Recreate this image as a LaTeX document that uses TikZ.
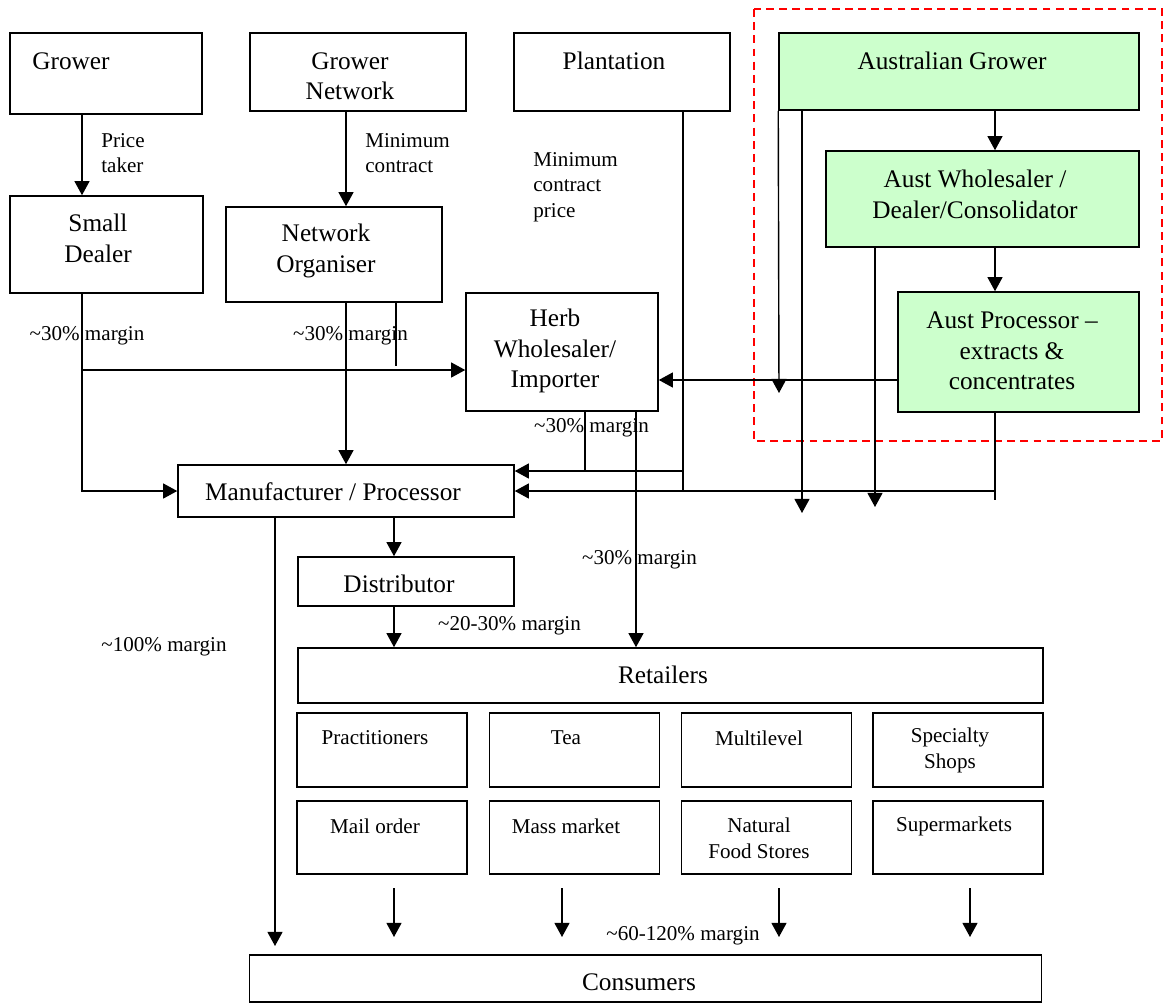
\documentclass[tikz,border=0pt]{standalone}
\usepackage{fontspec}
\setmainfont{Liberation Serif}
\usetikzlibrary{arrows.meta}
\definecolor{aglight}{HTML}{CCFFCC}

\begin{document}
\begin{tikzpicture}[x=0.02cm,y=-0.02cm,>={Triangle[length=8pt,width=8.5pt]},line cap=butt,
  box/.style={draw,line width=0.9pt,inner sep=0pt},
  agbox/.style={box,fill=aglight},
  big/.style={font=\fontsize{14.4}{17.3}\selectfont,align=center,inner sep=0pt},
  small/.style={font=\fontsize{12}{14.5}\selectfont,align=left,inner sep=0pt},
  arr/.style={->,line width=0.8pt}]
\useasboundingbox (0,0) rectangle (1164,1005);
% Australian part
\draw[red,line width=0.8pt,dash pattern=on 4.5pt off 3pt] (754,9) rectangle (1162,441);
% boxes
\node[box,minimum width=3.84cm,minimum height=1.62cm] (grower) at (106,73.5) {};
\node[box,minimum width=4.32cm,minimum height=1.56cm] (grnet) at (358,72) {};
\node[box,minimum width=4.32cm,minimum height=1.56cm] (plant) at (622,72) {};
\node[agbox,minimum width=7.2cm,minimum height=1.54cm] (ausgrow) at (959,71.5) {};
\node[agbox,minimum width=6.26cm,minimum height=1.92cm] (auswhol) at (982.5,199) {};
\node[agbox,minimum width=4.82cm,minimum height=2.4cm] (ausproc) at (1018.5,352) {};
\node[box,minimum width=3.86cm,minimum height=1.94cm] (dealer) at (106.5,244.5) {};
\node[box,minimum width=4.32cm,minimum height=1.9cm] (netorg) at (334,254.5) {};
\node[box,minimum width=3.84cm,minimum height=2.36cm] (herb) at (562,352) {};
\node[box,minimum width=6.72cm,minimum height=1.04cm] (manuf) at (346,491) {};
\node[box,minimum width=4.32cm,minimum height=0.98cm] (distr) at (406,581.5) {};
\node[box,minimum width=14.9cm,minimum height=1.1cm] (retail) at (670.5,675.5) {};
\node[box,minimum width=15.84cm,minimum height=0.94cm] (consum) at (645.5,978.5) {};
\foreach \x [count=\i] in {382,574.5,766.5,958} {
  \node[box,minimum width=3.4cm,minimum height=1.48cm] (shopA\i) at (\x,750) {};
  \node[box,minimum width=3.4cm,minimum height=1.46cm] (shopB\i) at (\x,837.5) {};
}
% box texts
\node[big] (growerT) at (71,61) {Grower};
\node[big] (grnetT) at (350,76) {Grower\\Network};
\node[big] (plantT) at (614,61) {Plantation};
\node[big] (ausgrowT) at (952,61) {Australian Grower};
\node[big] (auswholT) at (975,194.5) {Aust Wholesaler /\\Dealer/Consolidator};
\node[big] (ausprocT) at (1012,351) {Aust Processor --\\extracts \&\\concentrates};
\node[big] (dealerT) at (98,238.5) {Small\\Dealer};
\node[big] (netorgT) at (326,251) {Network\\Organiser};
\node[big] (herbT) at (555,351) {Herb\\Wholesaler/\\Importer};
\node[big] (manufT) at (333,492) {Manufacturer / Processor};
\node[big] (distrT) at (399,584) {Distributor};
\node[big] (retailT) at (663,675) {Retailers};
\node[big] (consumT) at (639,982) {Consumers};
\node[small] (shopA1T) at (375,738) {Practitioners};
\node[small] (shopA2T) at (566,738) {Tea};
\node[small] (shopA3T) at (759,738) {Multilevel};
\node[small,align=center] (shopA4T) at (950,750.5) {Specialty\\Shops};
\node[small] (shopB1T) at (375,826) {Mail order};
\node[small] (shopB2T) at (566,826) {Mass market};
\node[small,align=center] (shopB3T) at (759,838.5) {Natural\\Food Stores};
\node[small] (shopB4T) at (954,826) {Supermarkets};
% labels
\node[small,anchor=west] (priceL) at (101,153) {Price\\taker};
\node[small,anchor=west] (contrL) at (365,153) {Minimum\\contract};
\node[small,anchor=west] (plantL) at (533,187) {Minimum\\contract\\price};
\node[small] (mDealer) at (87,336) {\textasciitilde30\% margin};
\node[small] (mNet) at (350.5,336) {\textasciitilde30\% margin};
\node[small] (mHerb) at (591.5,428) {\textasciitilde30\% margin};
\node[small] (mRetail) at (639.5,560) {\textasciitilde30\% margin};
\node[small] (mDistr) at (509.5,626) {\textasciitilde20-30\% margin};
\node[small] (mManuf) at (164,647) {\textasciitilde100\% margin};
\node[small] (mShops) at (683,936) {\textasciitilde60-120\% margin};
% free ends
\coordinate (jDeal) at (82,370);
\coordinate (tickE) at (396,366);
\coordinate (herbE) at (585,471);
\coordinate (plantE) at (683,491);
\coordinate (procE) at (995,500);
\coordinate (agA) at (779,393);
\coordinate (agB) at (802,513);
\coordinate (awE) at (875,507);
\coordinate (mfE) at (275,946);
% connectors
\draw[arr] (grower.south -| 82,0) -- (dealer.north -| 82,0);
\draw[arr] (grnet.south -| 346,0) -- (netorg.north -| 346,0);
\draw[arr] (dealer.south -| 82,0) |- (manuf.west);
\draw[arr] (jDeal) -- (herb.west |- jDeal);
\draw[arr] (netorg.south -| 346,0) -- (manuf.north -| 346,0);
\draw[line width=0.8pt] (netorg.south -| tickE) -- (tickE);
\draw[line width=0.8pt] (herb.south -| herbE) -- (herbE);
\draw[line width=0.8pt] (plant.south -| plantE) -- (plantE);
\draw[arr] (plantE |- herbE) -- (manuf.east |- herbE);
\draw[line width=0.8pt] (ausproc.south -| procE) -- (procE);
\draw[arr] (procE |- manuf.east) -- (manuf.east);
\draw[arr] (herb.south -| 636,0) -- (retail.north -| 636,0);
\draw[arr] (ausproc.west |- 0,380) -- (herb.east |- 0,380);
\draw[arr] (ausgrow.south west) -- (agA);
\draw[arr] (ausgrow.south -| agB) -- (agB);
\draw[arr] (ausgrow.south -| 995,0) -- (auswhol.north -| 995,0);
\draw[arr] (auswhol.south -| awE) -- (awE);
\draw[arr] (auswhol.south -| 995,0) -- (ausproc.north -| 995,0);
\draw[arr] (manuf.south -| 394,0) -- (distr.north -| 394,0);
\draw[arr] (distr.south -| 394,0) -- (retail.north -| 394,0);
\draw[arr] (manuf.south -| mfE) -- (mfE);
\foreach \x [count=\i] in {394,562,779,970} {
  \coordinate (s\i) at (\x,888);
  \coordinate (t\i) at (\x,937);
  \draw[arr] (s\i) -- (t\i);
}
\end{tikzpicture}
\end{document}
